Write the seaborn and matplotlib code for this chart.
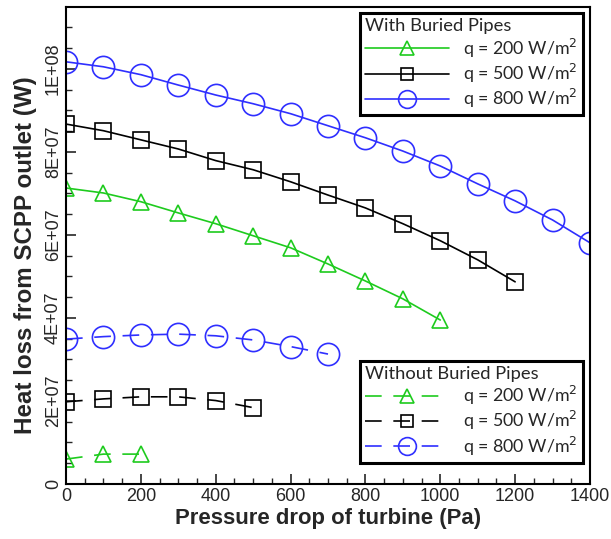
import matplotlib
matplotlib.use("Agg")
import matplotlib.pyplot as plt
import seaborn as sns
import pandas as pd
from matplotlib.ticker import MultipleLocator

# ---- data ----
x_with_200 = [0, 100, 200, 300, 400, 500, 600, 700, 800, 900, 1000]
y_with_200 = [71.3e6, 70.1e6, 68.0e6, 65.3e6, 62.7e6, 59.8e6, 56.9e6, 53.0e6, 48.9e6, 44.6e6, 39.5e6]
x_with_500 = [0, 100, 200, 300, 400, 500, 600, 700, 800, 900, 1000, 1100, 1200]
y_with_500 = [86.7e6, 85.1e6, 82.9e6, 80.7e6, 77.9e6, 75.7e6, 72.8e6, 69.6e6, 66.5e6, 62.7e6, 58.6e6, 54.0e6, 48.7e6]
x_with_800 = [0, 100, 200, 300, 400, 500, 600, 700, 800, 900, 1000, 1100, 1200, 1300, 1400]
y_with_800 = [101.7e6, 100.5e6, 98.6e6, 96.1e6, 93.7e6, 91.6e6, 89.2e6, 86.3e6, 83.4e6, 80.2e6, 76.6e6, 72.3e6, 68.2e6, 63.6e6, 58.1e6]

x_wo_200 = [0, 100, 200]
y_wo_200 = [6.0e6, 7.2e6, 7.2e6]
x_wo_500 = [0, 100, 200, 300, 400, 500]
y_wo_500 = [19.8e6, 20.5e6, 21.0e6, 21.0e6, 20.1e6, 18.4e6]
x_wo_800 = [0, 100, 200, 300, 400, 500, 600, 700]
y_wo_800 = [34.9e6, 35.5e6, 35.9e6, 36.1e6, 35.7e6, 34.7e6, 33.1e6, 31.3e6]

series_labels = ["q = 200 W/m$^2$", "q = 500 W/m$^2$", "q = 800 W/m$^2$"]
legend_titles = ["With Buried Pipes", "Without Buried Pipes"]
yticks = [0, 2e7, 4e7, 6e7, 8e7, 1e8]
ytick_labels = ["0", "2E+07", "4E+07", "6E+07", "8E+07", "1E+08"]
xticks = [0, 200, 400, 600, 800, 1000, 1200, 1400]
xlabel = "Pressure drop of turbine (Pa)"
ylabel = "Heat loss from SCPP outlet (W)"

# ---- style ----
sns.set_style("ticks")
plt.rcParams["font.family"] = ["Liberation Sans", "DejaVu Sans"]

GREEN = "#1ecb1e"
BLACK = "#000000"
BLUE = "#2f2fff"
colors = [GREEN, BLACK, BLUE]
markers = ["^", "s", "o"]
msizes = [12, 11, 16]

fig = plt.figure(figsize=(6.11, 5.39), dpi=100)
ax = fig.add_axes([66 / 611, 1 - 484 / 539, (590 - 66) / 611, (484 - 7) / 539])

with_data = [(x_with_200, y_with_200), (x_with_500, y_with_500), (x_with_800, y_with_800)]
wo_data = [(x_wo_200, y_wo_200), (x_wo_500, y_wo_500), (x_wo_800, y_wo_800)]

with_handles = []
for (xs, ys), c, m, ms in zip(with_data, colors, markers, msizes):
    df = pd.DataFrame({"x": xs, "y": ys})
    sns.lineplot(data=df, x="x", y="y", ax=ax, color=c, linewidth=1.2,
                 marker=m, markersize=ms, markerfacecolor="none",
                 markeredgecolor=c, markeredgewidth=1.2, linestyle="-")
    with_handles.append(ax.get_lines()[-1])

wo_handles = []
for (xs, ys), c, m, ms in zip(wo_data, colors, markers, msizes):
    df = pd.DataFrame({"x": xs, "y": ys})
    sns.lineplot(data=df, x="x", y="y", ax=ax, color=c, linewidth=1.2,
                 marker=m, markersize=ms, markerfacecolor="none",
                 markeredgecolor=c, markeredgewidth=1.2,
                 linestyle=(0, (10, 7)))
    wo_handles.append(ax.get_lines()[-1])

ax.set_xlim(0, 1400)
ax.set_ylim(0, 1.149e8)
ax.set_xticks(xticks)
ax.set_xticklabels([str(t) for t in xticks])
ax.set_yticks(yticks)
ax.set_yticklabels(ytick_labels, rotation=90, va="center")
ax.xaxis.set_minor_locator(MultipleLocator(50))
ax.yaxis.set_minor_locator(MultipleLocator(5e6))
ax.tick_params(axis="both", which="major", direction="in", length=7, width=1.2,
               labelsize=13, top=False, right=False, pad=3)
ax.tick_params(axis="both", which="minor", direction="in", length=4, width=1.0,
               top=False, right=False)
for s in ax.spines.values():
    s.set_linewidth(1.5)
    s.set_color("black")

ax.set_xlabel(xlabel, fontsize=15.9, fontweight="bold", labelpad=2)
ax.set_ylabel(ylabel, fontsize=17.4, fontweight="bold")
ax.yaxis.set_label_coords(-0.0553, 0.48)

leg_font = {"family": ["Lato", "DejaVu Sans"], "size": 12.8}

def make_legend(handles, title, loc, bbox):
    leg = ax.legend(handles, series_labels, title=title, loc=loc, bbox_to_anchor=bbox,
                    bbox_transform=fig.transFigure, prop=leg_font,
                    title_fontproperties={"family": ["Lato", "DejaVu Sans"], "size": 13.2},
                    frameon=True, fancybox=False, framealpha=1, edgecolor="black",
                    handlelength=4.7, handletextpad=0.8, borderpad=0.3,
                    labelspacing=0.12, borderaxespad=0, markerscale=0.8)
    leg.get_frame().set_linewidth(2.2)
    leg._legend_box.align = "left"
    return leg

leg1 = make_legend(with_handles, legend_titles[0], "upper right", (583 / 611, 1 - 13 / 539))
ax.add_artist(leg1)
leg2 = make_legend(wo_handles, legend_titles[1], "lower right", (583 / 611, 1 - 463 / 539))

fig.savefig("out.png", dpi=100)
